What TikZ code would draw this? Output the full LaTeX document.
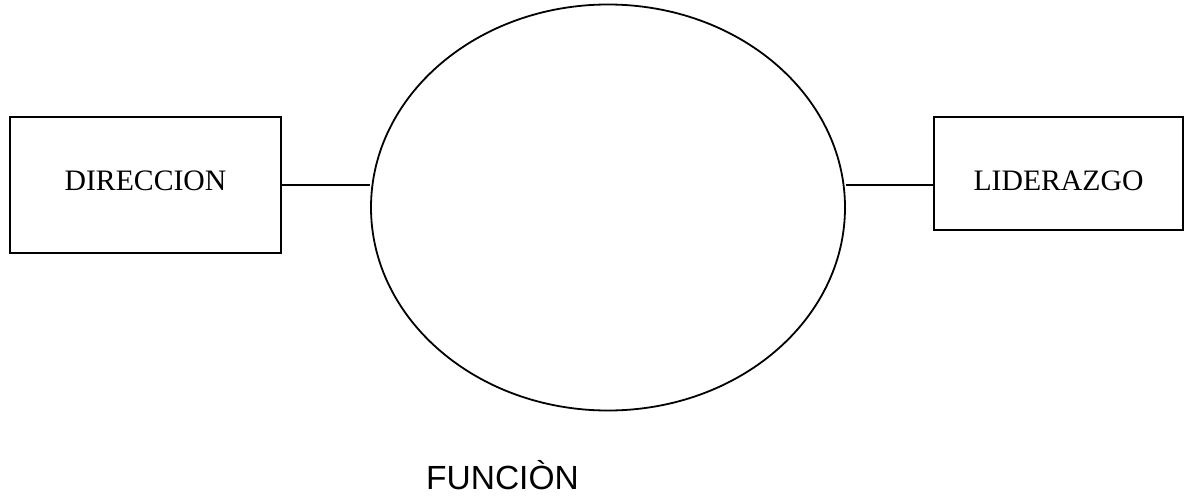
\documentclass[tikz,border=0pt]{standalone}
\usepackage{fontspec}
\setmainfont{Liberation Serif}
\newfontfamily\arialfont{Liberation Sans}
\usetikzlibrary{shapes.geometric}
\tikzset{
  boxnode/.style={draw, line width=1.8pt, rectangle, inner sep=0pt, font=\fontsize{29.7pt}{32pt}\selectfont},
  link/.style={line width=1.8pt},
}
\begin{document}
\begin{tikzpicture}[x=1pt,y=-1pt]
\useasboundingbox (0,0) rectangle (1190,495);
\node[boxnode, minimum width=271pt, minimum height=136pt, text height=20pt, text depth=10pt] (dir) at (145.5,185) {DIRECCION};
\node[boxnode, minimum width=249pt, minimum height=113pt, text height=33pt, text depth=0pt] (lid) at (1058.5,173.5) {LIDERAZGO};
\node[draw, ellipse, line width=1.8pt, inner sep=0pt, minimum width=474pt, minimum height=406pt] (ell) at (608,207.5) {};
\draw[link] (dir.east) -- (ell.west |- dir.east);
\draw[link] (ell.east |- dir.east) -- (lid.west |- dir.east);
\node[anchor=base, inner sep=0pt, font=\arialfont\fontsize{33.5pt}{36pt}\selectfont] (fun) at (502.5,489) {FUNCIÒN};
\end{tikzpicture}
\end{document}
